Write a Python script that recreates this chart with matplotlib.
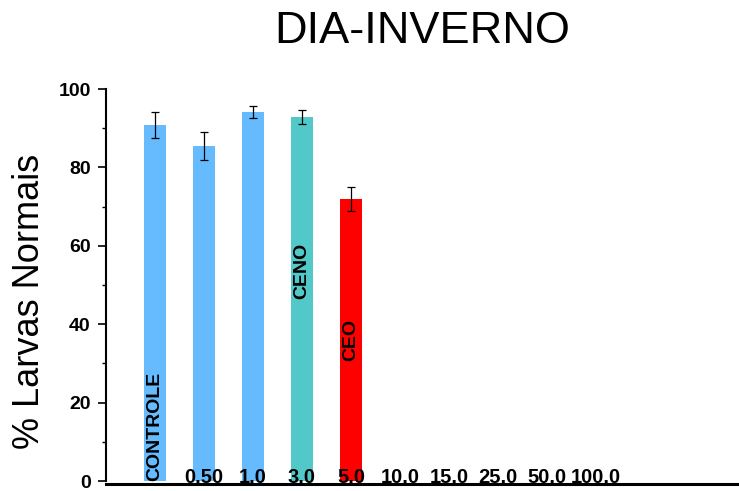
import numpy as np
import matplotlib
matplotlib.use("Agg")
import matplotlib.pyplot as plt

plt.rcParams['font.family'] = ['Liberation Sans', 'DejaVu Sans']

# Concentrations tested (first group is the control)
categories = ["CONTROLE", "0.50", "1.0", "3.0", "5.0", "10.0", "15.0", "25.0", "50.0", "100.0"]
# Mean % of normal larvae and standard deviation
normal_pct = [90.8, 85.5, 94.1, 92.9, 71.9, 0.0, 0.0, 0.0, 0.0, 0.0]
std_dev = [3.3, 3.5, 1.6, 1.7, 3.1, np.nan, np.nan, np.nan, np.nan, np.nan]
# Threshold markers written inside bars
marker_labels = ["CENO", "CEO"]
marker_index = [3, 4]
marker_height = [53.6, 36.0]

bar_colors = ["#66BBFF", "#66BBFF", "#66BBFF", "#52C9C8", "#FF0000",
              "#66BBFF", "#66BBFF", "#66BBFF", "#66BBFF", "#66BBFF"]

fig = plt.figure(figsize=(7.39, 4.91), dpi=100)
ax = fig.add_axes([106 / 739, 1 - 484 / 491, 1 - 106 / 739, (484 - 89) / 491])

x = np.arange(len(categories))
ax.bar(x, normal_pct, width=0.45, color=bar_colors, zorder=1)
ax.errorbar(x, normal_pct, yerr=std_dev, fmt="none", ecolor="black",
            elinewidth=0.9, capsize=3, capthick=0.9, zorder=3)

ax.set_xlim(-1.0, 11.92)
ax.set_ylim(-0.75, 100)

# Category names sit inside the plot, on the baseline (partly under the axis line)
for xi, name in zip(x, categories):
    if xi == 0:
        ax.text(xi, 0, name, rotation=90, ha="center", va="bottom",
                fontsize=14, fontweight="bold", zorder=2)
    else:
        ax.text(xi, -0.6, name, ha="center", va="baseline",
                fontsize=14.5, fontweight="bold", zorder=2)

for lbl, idx, h in zip(marker_labels, marker_index, marker_height):
    ax.text(idx, h, lbl, rotation=90, ha="center", va="center",
            fontsize=14, fontweight="bold", zorder=4)

ax.set_xticks([])
ax.set_yticks(np.arange(0, 101, 20))
ax.set_yticks(np.arange(10, 100, 20), minor=True)
ax.tick_params(axis="y", which="major", direction="out", length=6, width=1.2,
               labelsize=14, pad=5)
ax.tick_params(axis="y", which="minor", direction="out", length=3, width=1.0)
for lab in ax.get_yticklabels():
    lab.set_fontweight("bold")

for side in ("top", "right"):
    ax.spines[side].set_visible(False)
ax.spines["left"].set_linewidth(1.5)
ax.spines["bottom"].set_linewidth(2.2)
ax.spines["bottom"].set_zorder(3)
ax.spines["left"].set_bounds(0, 100)

fig.text(30 / 739, 1 - 301 / 491, "% Larvas Normais", rotation=90,
         ha="center", va="center", fontsize=26)

fig.text((106 + 739) / 2 / 739, 1 - 43 / 491, "DIA-INVERNO", ha="center",
         va="baseline", fontsize=32.5)

fig.savefig("out.png", dpi=100)
